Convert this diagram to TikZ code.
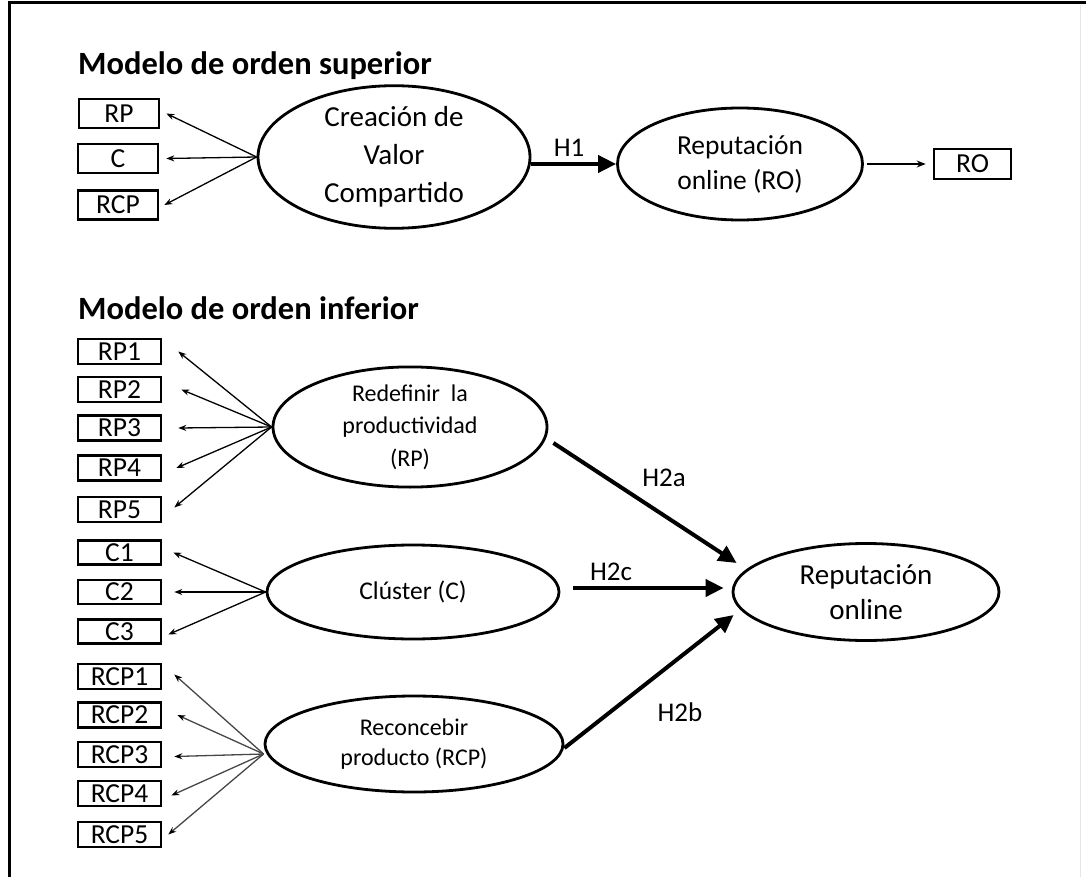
\documentclass[tikz,border=0pt]{standalone}
\usepackage{fontspec}
\setmainfont{Carlito}
\usetikzlibrary{shapes.geometric,arrows.meta}
\tikzset{
  ind/.style={draw, line width=2.6pt, minimum width=83pt, minimum height=25pt, inner sep=0pt, font=\fontsize{27.5}{27.5}\selectfont},
  lat/.style={ellipse, draw, line width=2.8pt, inner sep=0pt, align=center},
  load/.style={-{Stealth[length=8pt,width=6pt]}, line width=1.3pt},
  gload/.style={load, draw=black!72, -{Stealth[length=8pt,width=6pt,color=black]}},
  hyp/.style={-{Triangle[length=18pt,width=17pt]}, line width=4pt},
  hlab/.style={font=\fontsize{27}{27}\selectfont},
  ttl/.style={anchor=base west, inner sep=0pt, font=\bfseries\fontsize{32.5}{32.5}\selectfont}
}
\begin{document}
\begin{tikzpicture}[x=1pt,y=-1pt]
\useasboundingbox (0,0) rectangle (1086,877);
\fill[white] (0,0) rectangle (1086,877);
\draw[line width=3pt] (9.5,877) -- (9.5,3) -- (1086,3);
\draw[black!10, line width=1pt] (1080,5) -- (1080,877);

% ---------- upper model ----------
\node[ttl] (t1) at (78,75) {Modelo de orden superior};

\node[ind, minimum width=80pt, minimum height=29pt] (rp) at (119,113.5) {RP};
\node[ind, minimum width=80pt, minimum height=29pt] (c) at (118,158.5) {C};
\node[ind, minimum width=80pt, minimum height=29pt] (rcp) at (118,205) {RCP};

\node[lat, minimum width=272pt, minimum height=112pt, font=\fontsize{29}{38}\selectfont] (cvc) at (394,157) {Creación de\\Valor\\Compartido};
\node[lat, minimum width=245pt, minimum height=112pt, font=\fontsize{27.5}{35}\selectfont] (ro) at (740,164) {Reputación\\online (RO)};
\node[ind, minimum width=77pt, minimum height=30pt] (rob) at (972.5,164) {RO};

\draw[load] (cvc.west) -- ([xshift=6pt]rp.east);
\draw[load] (cvc.west) -- ([xshift=7pt]c.east);
\draw[load] (cvc.west) -- ([xshift=5pt]rcp.east);

\draw[hyp] (cvc.east |- ro.west) -- (ro.west);
\node[hlab] (h1) at (569,148) {H1};
\draw[-{Stealth[length=9pt,width=7pt]}, line width=1.3pt] ([xshift=3pt]ro.east) -- ([xshift=-7pt]rob.west);

% ---------- lower model ----------
\node[ttl] (t2) at (78,319) {Modelo de orden inferior};

\node[ind] (rp1) at (119.5,351.5) {RP1};
\node[ind] (rp2) at (119.5,389.5) {RP2};
\node[ind] (rp3) at (119.5,428) {RP3};
\node[ind] (rp4) at (119.5,468) {RP4};
\node[ind] (rp5) at (119.5,509.5) {RP5};

\node[ind, minimum height=24pt] (c1) at (119.5,552.5) {C1};
\node[ind, minimum height=24pt] (c2) at (119.5,592) {C2};
\node[ind, minimum height=24pt] (c3) at (119.5,631.5) {C3};

\node[ind] (rcp1) at (119.5,676.5) {RCP1};
\node[ind] (rcp2) at (119.5,715) {RCP2};
\node[ind] (rcp3) at (119.5,754.5) {RCP3};
\node[ind] (rcp4) at (119.5,793.5) {RCP4};
\node[ind] (rcp5) at (119.5,834.5) {RCP5};

\node[lat, minimum width=274pt, minimum height=101pt, font=\fontsize{24}{32.5}\selectfont] (rdp) at (410,427) {Redefinir~ la\\productividad\\(RP)};
\node[lat, minimum width=292pt, minimum height=94pt, font=\fontsize{25.5}{25.5}\selectfont] (cl) at (413,592) {Clúster (C)};
\node[lat, minimum width=298pt, minimum height=96pt, font=\fontsize{24}{30}\selectfont] (rcpe) at (414,744) {Reconcebir\\producto (RCP)};
\node[lat, minimum width=266pt, minimum height=97pt, font=\fontsize{29}{35}\selectfont] (rep) at (866,592) {Reputación\\online};

\draw[load] (rdp.west) -- ([xshift=16pt]rp1.east);
\draw[load] (rdp.west) -- ([xshift=19pt]rp2.east);
\draw[load] (rdp.west) -- ([xshift=16pt]rp3.east);
\draw[load] (rdp.west) -- ([xshift=14pt]rp4.east);
\draw[load] (rdp.west) -- ([xshift=12pt,yshift=2pt]rp5.east);

\draw[load] (cl.west) -- ([xshift=11pt]c1.east);
\draw[load] (cl.west) -- ([xshift=12pt]c2.east);
\draw[load] (cl.west) -- ([xshift=6pt,yshift=-3pt]c3.east);

\draw[gload] ([yshift=-10pt]rcpe.west) -- ([xshift=12pt,yshift=2pt]rcp1.east);
\draw[gload] ([yshift=-10pt]rcpe.west) -- ([xshift=15pt]rcp2.east);
\draw[gload] ([yshift=-10pt]rcpe.west) -- ([xshift=12pt,yshift=-2pt]rcp3.east);
\draw[gload] ([yshift=-10pt]rcpe.west) -- ([xshift=9pt,yshift=-2pt]rcp4.east);
\draw[gload] ([yshift=-10pt]rcpe.west) -- ([xshift=6pt]rcp5.east);

\draw[hyp] ([xshift=5pt,yshift=-16pt]rdp.east) -- ([xshift=5pt,yshift=29pt]rep.west);
\draw[hyp] ([xshift=13pt,yshift=4pt]cl.east) -- ([xshift=-8pt,yshift=4pt]rep.west);
\draw[hyp] ([yshift=-4pt]rcpe.east) -- ([xshift=2pt,yshift=-23pt]rep.west);

\node[hlab] (h2a) at (664,478) {H2a};
\node[hlab] (h2c) at (611,572) {H2c};
\node[hlab] (h2b) at (680,712) {H2b};
\end{tikzpicture}
\end{document}
